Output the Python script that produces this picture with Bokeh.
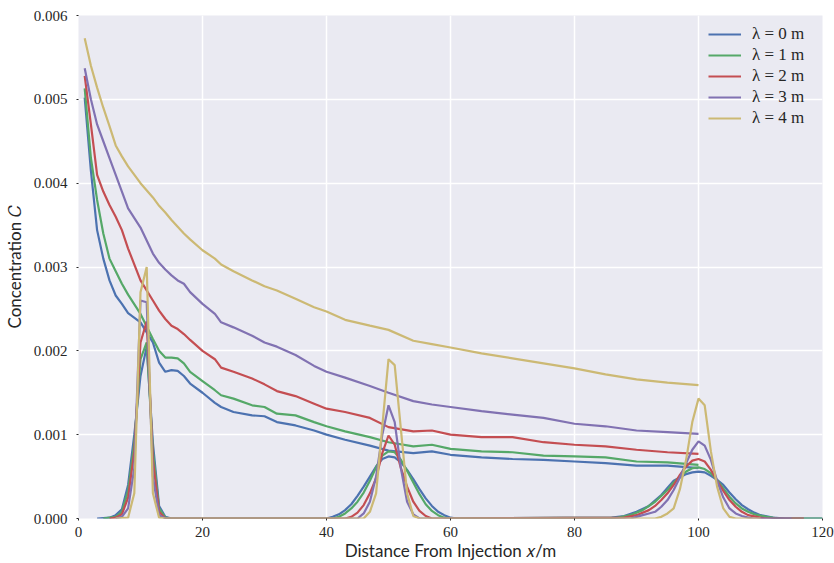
from bokeh.plotting import figure
from bokeh.models import Range1d, NumeralTickFormatter, FixedTicker, Legend, LegendItem
from bokeh.embed import file_html
from bokeh.resources import INLINE

# ---------------- data ----------------
labels = ["λ = 0 m", "λ = 1 m", "λ = 2 m", "λ = 3 m", "λ = 4 m"]
colors = ["#4C72B0", "#55A868", "#C44E52", "#8172B2", "#CCB974"]

x_decay = [1, 2, 3, 4, 5, 6, 7, 8, 10, 12, 13, 14, 15, 16, 17, 18, 20, 22, 23, 25,
           28, 30, 32, 35, 38, 40, 43, 47, 50, 54, 57, 60, 65, 70, 75, 80, 85, 90, 95, 100]

decay_0 = [0.00502, 0.00415, 0.00344, 0.0031, 0.00284, 0.00266, 0.00256, 0.00245, 0.00234, 0.0021,
           0.00186, 0.00175, 0.00177, 0.00176, 0.0017, 0.00161, 0.0015, 0.00138, 0.00133, 0.00127,
           0.00123, 0.00122, 0.00115, 0.00111, 0.00105, 0.001, 0.00094, 0.00087, 0.00081, 0.00078,
           0.0008, 0.00076, 0.00073, 0.00071, 0.0007, 0.00068, 0.00066, 0.00063, 0.00063, 0.0006]
decay_1 = [0.00513, 0.0043, 0.0038, 0.0034, 0.0031, 0.00295, 0.0028, 0.00267, 0.00244, 0.00214,
           0.002, 0.00192, 0.00192, 0.00191, 0.00185, 0.00175, 0.00164, 0.00153, 0.00147, 0.00143,
           0.00135, 0.00133, 0.00125, 0.00123, 0.00115, 0.0011, 0.00104, 0.00097, 0.00091, 0.00086,
           0.00088, 0.00083, 0.0008, 0.00079, 0.00075, 0.00074, 0.00073, 0.00068, 0.00067, 0.00064]
decay_2 = [0.00528, 0.0047, 0.0041, 0.0039, 0.00374, 0.0036, 0.00344, 0.00322, 0.00284, 0.0026,
           0.00248, 0.00238, 0.0023, 0.00226, 0.0022, 0.00213, 0.002, 0.0019, 0.0018, 0.00175,
           0.00167, 0.0016, 0.00152, 0.00146, 0.00137, 0.00131, 0.00127, 0.0012, 0.00109, 0.00104,
           0.00105, 0.001, 0.00097, 0.00097, 0.00091, 0.00088, 0.00086, 0.00082, 0.00079, 0.00077]
decay_3 = [0.00537, 0.005, 0.0047, 0.0045, 0.0043, 0.0041, 0.0039, 0.0037, 0.00347, 0.00316,
           0.00305, 0.00297, 0.0029, 0.00284, 0.0028, 0.0027, 0.00256, 0.00244, 0.00234, 0.00228,
           0.00218, 0.0021, 0.00205, 0.00195, 0.00182, 0.00175, 0.00168, 0.00158, 0.0015, 0.0014,
           0.00136, 0.00133, 0.00128, 0.00124, 0.0012, 0.00113, 0.0011, 0.00105, 0.00103, 0.00101]
decay_4 = [0.00573, 0.0054, 0.00514, 0.0049, 0.00468, 0.00445, 0.00432, 0.0042, 0.004, 0.00383,
           0.00373, 0.00365, 0.00356, 0.00348, 0.0034, 0.00333, 0.0032, 0.0031, 0.00303, 0.00295,
           0.00284, 0.00277, 0.00272, 0.00262, 0.00252, 0.00247, 0.00237, 0.0023, 0.00225, 0.00212,
           0.00208, 0.00204, 0.00197, 0.00191, 0.00185, 0.00179, 0.00172, 0.00166, 0.00162, 0.00159]

pulse_x_0 = [3, 5, 6, 7, 8, 9, 10, 11, 12, 13, 14, 15,
             40, 41, 42, 43, 44, 45, 46, 47, 48, 49, 50, 51, 52, 53, 54, 55, 56, 57, 58, 59, 60, 61,
             86, 88, 90, 92, 94, 96, 98, 99, 100, 101, 102, 103, 104, 105, 106, 107, 108, 109, 110, 112, 114, 120]
pulse_y_0 = [0, 0.00001, 0.00004, 0.00011, 0.0004, 0.001, 0.0017, 0.00205, 0.0009, 0.00015, 0.00002, 0,
             0, 0.00002, 0.00005, 0.0001, 0.00017, 0.00027, 0.00038, 0.0005, 0.00062, 0.00071, 0.00074,
             0.00073, 0.00067, 0.00058, 0.00047, 0.00035, 0.00024, 0.00015, 0.00008, 0.00004, 0.00001, 0,
             0.00001, 0.00003, 0.00008, 0.00015, 0.00028, 0.00045, 0.00053, 0.00055, 0.00056, 0.00055,
             0.00051, 0.00046, 0.0004, 0.00031, 0.00023, 0.00016, 0.00011, 0.00007, 0.00004, 0.00001, 0, 0]

pulse_x_1 = [4, 6, 7, 8, 9, 10, 11, 12, 13, 14, 15,
             41, 42, 43, 44, 45, 46, 47, 48, 49, 50, 51, 52, 53, 54, 55, 56, 57, 58, 59, 60,
             87, 89, 91, 93, 95, 96, 97, 98, 99, 100, 101, 102, 103, 104, 105, 106, 107, 108, 109, 111, 113, 120]
pulse_y_1 = [0, 0.00002, 0.00008, 0.00033, 0.0009, 0.0019, 0.0021, 0.0008, 0.00012, 0.00001, 0,
             0, 0.00002, 0.00006, 0.00012, 0.0002, 0.00031, 0.00045, 0.00061, 0.00075, 0.0008, 0.00079,
             0.0007, 0.00057, 0.00043, 0.00029, 0.00017, 0.00009, 0.00004, 0.00001, 0,
             0.00001, 0.00004, 0.0001, 0.0002, 0.00034, 0.00043, 0.0005, 0.00056, 0.0006, 0.00061,
             0.00059, 0.00054, 0.00046, 0.00036, 0.00026, 0.00018, 0.00012, 0.00008, 0.00005, 0.00002, 0, 0]

pulse_x_2 = [5, 6, 7, 8, 9, 10, 11, 12, 13, 14,
             43, 44, 45, 46, 47, 48, 49, 50, 51, 52, 53, 54, 55, 56, 57,
             88, 90, 92, 93, 94, 95, 96, 97, 98, 99, 100, 101, 102, 103, 104, 105, 106, 107, 108, 110, 111, 117]
pulse_y_2 = [0, 0.00001, 0.00005, 0.00025, 0.0008, 0.0021, 0.00235, 0.0007, 0.00008, 0,
             0, 0.00002, 0.00007, 0.00016, 0.0003, 0.00048, 0.00078, 0.00099, 0.00088, 0.0006, 0.00038,
             0.0002, 0.00009, 0.00003, 0,
             0.00001, 0.00004, 0.0001, 0.00015, 0.00022, 0.0003, 0.0004, 0.00052, 0.00062, 0.00069,
             0.00071, 0.00068, 0.00058, 0.00045, 0.00033, 0.00022, 0.00014, 0.00008, 0.00004, 0.00001, 0, 0]

pulse_x_3 = [6, 7, 8, 9, 10, 11, 12, 13, 14,
             45, 46, 47, 48, 49, 50, 51, 52, 53, 54, 55,
             89, 90, 91, 92, 93, 94, 95, 96, 97, 98, 99, 100, 101, 102, 103, 104, 105, 106, 107, 108, 109, 115]
pulse_y_3 = [0, 0.00002, 0.00012, 0.0006, 0.0026, 0.00258, 0.0005, 0.00004, 0,
             0, 0.00006, 0.0002, 0.0005, 0.001, 0.00135, 0.00115, 0.0006, 0.0002, 0.00005, 0,
             0, 0.00002, 0.00004, 0.00006, 0.00008, 0.00014, 0.00022, 0.00034, 0.00049, 0.00066, 0.00082,
             0.00092, 0.00087, 0.0007, 0.00045, 0.00025, 0.00012, 0.00006, 0.00003, 0.00001, 0, 0]

pulse_x_4 = [6, 8, 9, 10, 11, 12, 13, 14,
             46, 47, 48, 50, 51, 53, 54, 55,
             93, 94, 95, 96, 97, 98, 99, 100, 101, 102, 103, 104, 105, 106, 110]
pulse_y_4 = [0, 0.00001, 0.0003, 0.0027, 0.003, 0.0003, 0.00001, 0,
             0, 0.00008, 0.0003, 0.0019, 0.00183, 0.0003, 0.00003, 0,
             0, 0.00002, 0.00006, 0.00012, 0.00035, 0.0007, 0.00115, 0.00143, 0.00135, 0.0008,
             0.00038, 0.00012, 0.00002, 0, 0]

x_ticks = [0, 20, 40, 60, 80, 100, 120]
y_ticks = [0.0, 0.001, 0.002, 0.003, 0.004, 0.005, 0.006]
x_title = "Distance From Injection 𝑥/m"
y_title = "Concentration 𝐶"

decays = [decay_0, decay_1, decay_2, decay_3, decay_4]
pulses = [(pulse_x_0, pulse_y_0), (pulse_x_1, pulse_y_1), (pulse_x_2, pulse_y_2),
          (pulse_x_3, pulse_y_3), (pulse_x_4, pulse_y_4)]

# ---------------- figure ----------------
TEXT = "#262626"
p = figure(width=834, height=563, output_backend="svg", toolbar_location=None,
           x_range=Range1d(x_ticks[0], x_ticks[-1]), y_range=Range1d(y_ticks[0], y_ticks[-1]),
           min_border_left=78, min_border_right=12, min_border_top=15, min_border_bottom=45)
p.background_fill_color = "#EAEAF2"
p.border_fill_color = "white"
p.outline_line_color = None

for ax in (p.xaxis[0], p.yaxis[0]):
    ax.axis_line_color = None
    ax.major_tick_line_color = TEXT
    ax.major_tick_out = 2
    ax.major_tick_in = 0
    ax.minor_tick_line_color = None
    ax.major_label_text_font = "Liberation Serif"
    ax.major_label_text_font_size = "15px"
    ax.major_label_text_color = TEXT
    ax.axis_label_text_font = "Lato"
    ax.axis_label_text_font_size = "17px"
    ax.axis_label_text_font_style = "normal"
    ax.axis_label_text_color = TEXT

p.xaxis.ticker = FixedTicker(ticks=x_ticks)
p.yaxis.ticker = FixedTicker(ticks=y_ticks)
p.yaxis.formatter = NumeralTickFormatter(format="0.000")
p.xaxis.major_label_standoff = 6
p.yaxis.major_label_standoff = 9
p.xaxis.axis_label = x_title
p.yaxis.axis_label = y_title
p.xaxis.axis_label_standoff = 0
p.yaxis.axis_label_standoff = 6

p.xgrid.grid_line_color = "white"
p.ygrid.grid_line_color = "white"
p.xgrid.grid_line_width = 1.5
p.ygrid.grid_line_width = 1.5

items = []
for lab, col, dec, (pxs, pys) in zip(labels, colors, decays, pulses):
    r = p.line(x_decay, dec, line_color=col, line_width=2.2)
    p.line(pxs, pys, line_color=col, line_width=2.2)
    items.append(LegendItem(label=lab, renderers=[r]))

legend = Legend(items=items, location="top_right")
legend.background_fill_alpha = 0
legend.border_line_alpha = 0
legend.label_text_font = "Liberation Serif"
legend.label_text_font_size = "17px"
legend.label_text_color = TEXT
legend.glyph_width = 33
legend.glyph_height = 20
legend.label_height = 20
legend.label_width = 61
legend.spacing = 1
legend.label_standoff = 11
legend.padding = 4
legend.margin = 5
p.add_layout(legend)

open("out.html", "w").write(file_html(p, INLINE))
